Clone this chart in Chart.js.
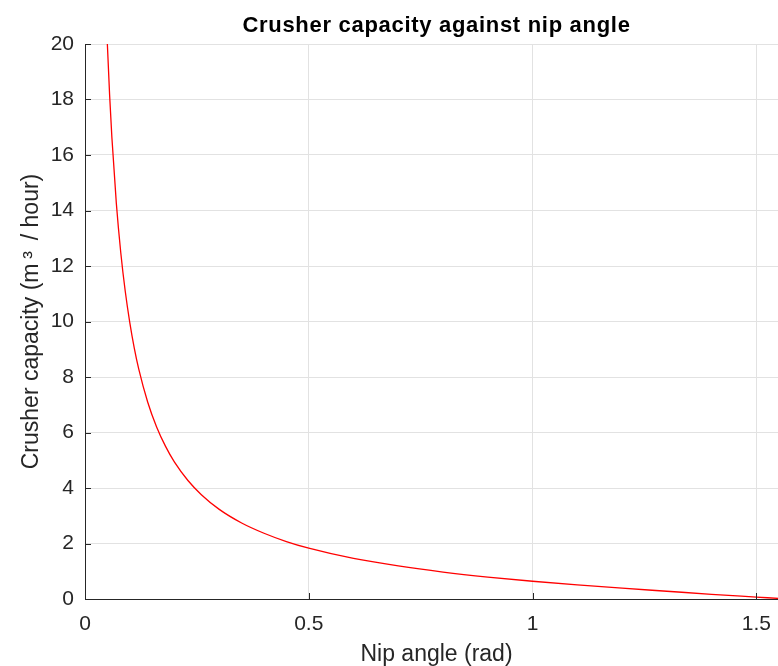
<!DOCTYPE html>
<html>
<head>
<meta charset="utf-8">
<script src="https://cdn.jsdelivr.net/npm/chart.js@4/dist/chart.umd.min.js"></script>
<style>
html,body{margin:0;padding:0;background:#fff;overflow:hidden;width:778px;height:666px;}
#wrap{position:relative;width:792px;height:666px;}
</style>
</head>
<body>
<div id="wrap"><canvas id="c" width="792" height="666"></canvas></div>
<script>
// Data
const nipAngle = [0.045, 0.05, 0.055, 0.06, 0.07, 0.08, 0.09, 0.10, 0.11, 0.12, 0.14, 0.16, 0.18, 0.20, 0.23, 0.26, 0.30, 0.35, 0.40, 0.45, 0.50, 0.60, 0.70, 0.80, 0.90, 1.00, 1.10, 1.20, 1.30, 1.40, 1.50, 1.55];
const capacity = [22.2, 19.98, 18.16, 16.65, 14.26, 12.47, 11.08, 9.97, 9.05, 8.29, 7.10, 6.20, 5.50, 4.93, 4.27, 3.76, 3.23, 2.74, 2.37, 2.07, 1.83, 1.46, 1.19, 0.97, 0.79, 0.64, 0.51, 0.39, 0.28, 0.17, 0.07, 0.02];
const xTicks = [0, 0.5, 1, 1.5];
const yTicks = [0, 2, 4, 6, 8, 10, 12, 14, 16, 18, 20];
const titleText = 'Crusher capacity against nip angle';
const xTitle = 'Nip angle (rad)';
const yTitle = 'Crusher capacity (m\u2009\u00B3\u2009 / hour)';

const AX = '#262626';
const FONT = "'Liberation Sans', Arial, Helvetica, sans-serif";

const points = nipAngle.map((x, i) => ({x: x, y: capacity[i]}));

const extras = {
  id: 'extras',
  afterDraw(chart) {
    const ctx = chart.ctx;
    const a = chart.chartArea;
    const xs = chart.scales.x, ys = chart.scales.y;
    ctx.save();
    ctx.strokeStyle = AX;
    ctx.lineWidth = 1;
    ctx.beginPath();
    xTicks.forEach(v => {
      const px = Math.round(xs.getPixelForValue(v)) + 0.5;
      ctx.moveTo(px, a.bottom);
      ctx.lineTo(px, a.bottom - 6);
    });
    yTicks.forEach(v => {
      const py = Math.round(ys.getPixelForValue(v)) + 0.5;
      ctx.moveTo(a.left, py);
      ctx.lineTo(a.left + 6, py);
    });
    ctx.stroke();
    // title centred on plot area
    ctx.fillStyle = '#000';
    ctx.font = 'bold 22px ' + FONT;
    ctx.letterSpacing = '0.7px';
    ctx.textAlign = 'center';
    ctx.textBaseline = 'alphabetic';
    ctx.fillText(titleText, (a.left + a.right) / 2, 32);
    ctx.restore();
  }
};

new Chart(document.getElementById('c'), {
  type: 'line',
  data: {
    datasets: [{
      data: points,
      borderColor: '#ff0000',
      borderWidth: 1.3,
      pointRadius: 0,
      fill: false,
      cubicInterpolationMode: 'monotone'
    }]
  },
  options: {
    responsive: false,
    animation: false,
    devicePixelRatio: 1,
    layout: {padding: {top: 44, right: 4, left: 0, bottom: 0}},
    plugins: {legend: {display: false}, tooltip: {enabled: false}, title: {display: false}},
    scales: {
      x: {
        type: 'linear',
        min: 0,
        max: 1.5708,
        afterBuildTicks: s => { s.ticks = xTicks.map(v => ({value: v})); },
        afterFit: s => { s.height = 67; },
        ticks: {
          color: AX,
          font: {family: FONT, size: 21},
          padding: 13,
          maxRotation: 0,
          callback: v => String(v)
        },
        grid: {color: '#e2e2e2', drawTicks: false},
        border: {display: true, color: AX, width: 1},
        title: {display: true, text: xTitle, color: AX, font: {family: FONT, size: 23}, padding: {top: 0, bottom: -2}}
      },
      y: {
        type: 'linear',
        min: 0,
        max: 20,
        afterBuildTicks: s => { s.ticks = yTicks.map(v => ({value: v})); },
        afterFit: s => { s.width = 85; },
        ticks: {
          color: AX,
          font: {family: FONT, size: 21},
          padding: 11,
          callback: v => String(v)
        },
        grid: {color: '#e2e2e2', drawTicks: false},
        border: {display: true, color: AX, width: 1},
        title: {display: true, text: yTitle, color: AX, font: {family: FONT, size: 23}, padding: {top: 18, bottom: 0}}
      }
    }
  },
  plugins: [extras]
});
</script>
</body>
</html>
